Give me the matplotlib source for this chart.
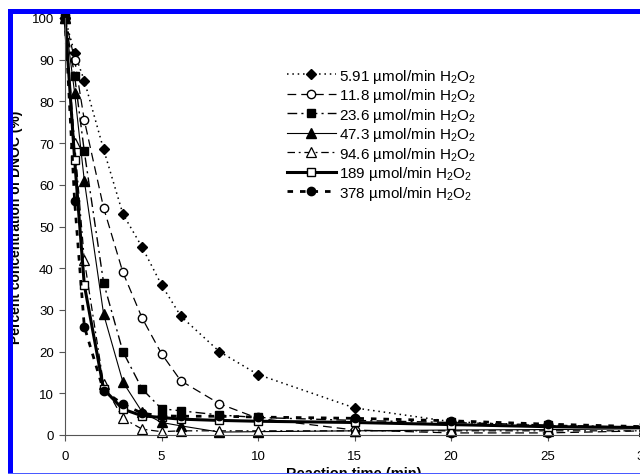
import matplotlib
matplotlib.use("Agg")
import matplotlib.pyplot as plt
from matplotlib.patches import Rectangle

plt.rcParams['font.family'] = ['Liberation Sans', 'DejaVu Sans']
plt.rcParams['mathtext.default'] = 'regular'

# reaction time (min)
t = [0, 0.5, 1, 2, 3, 4, 5, 6, 8, 10, 15, 20, 25, 30]

# percent concentration of DNOC for each H2O2 feed rate
c_591 = [100, 91.5, 85, 68.5, 53, 45, 36, 28.5, 20, 14.5, 6.5, 3.2, 2.2, 1.8]
c_118 = [100, 90, 75.5, 54.5, 39, 28, 19.5, 13, 7.5, 4.0, 1.2, 0.5, 0.5, 1.0]
c_236 = [100, 86, 68, 36.5, 20, 11, 6.3, 5.8, 4.8, 4.2, 3.5, 3.0, 2.4, 1.8]
c_473 = [100, 82, 61, 29, 12.7, 5.5, 3.0, 2.2, 0.7, 0.8, 1.0, 1.2, 1.3, 1.5]
c_946 = [100, 70, 42, 12.2, 4.0, 1.4, 0.8, 1.0, 1.0, 1.0, 1.0, 1.0, 1.0, 1.0]
c_189 = [100, 66, 36, 11, 6.2, 4.6, 4.2, 3.8, 3.5, 3.3, 3.0, 2.5, 2.0, 1.8]
c_378 = [100, 56, 26, 10.6, 7.4, 5.2, 4.6, 4.5, 4.5, 4.3, 4.0, 3.4, 2.6, 2.0]

labels = ["5.91 µmol/min H$_2$O$_2$", "11.8 µmol/min H$_2$O$_2$",
          "23.6 µmol/min H$_2$O$_2$", "47.3 µmol/min H$_2$O$_2$",
          "94.6 µmol/min H$_2$O$_2$", "189 µmol/min H$_2$O$_2$",
          "378 µmol/min H$_2$O$_2$"]

fig = plt.figure(figsize=(6.4, 4.77), dpi=100)
ax = fig.add_axes([65/640, 41/477, 579/640, 417/477])

k = dict(color="black", clip_on=False)
ax.plot(t, c_591, ls=(0, (1, 2.5)), lw=1.1, marker="D", ms=5, mfc="black", label=labels[0], **k)
ax.plot(t, c_118, ls=(0, (7, 4)), lw=0.9, marker="o", ms=6, mfc="white", mew=1, label=labels[1], **k)
ax.plot(t, c_236, ls=(0, (7, 3, 1.5, 3)), lw=1.0, marker="s", ms=6, mfc="black", label=labels[2], **k)
ax.plot(t, c_473, ls="-", lw=0.8, marker="^", ms=6.5, mfc="black", label=labels[3], **k)
ax.plot(t, c_946, ls=(0, (6, 3, 1.5, 3)), lw=0.9, marker="^", ms=6.5, mfc="white", mew=0.9, label=labels[4], **k)
ax.plot(t, c_189, ls="-", lw=2.2, marker="s", ms=5.5, mfc="white", mew=1, label=labels[5], **k)
ax.plot(t, c_378, ls=(0, (2, 2.5)), lw=2.0, marker="o", ms=6, mfc="black", label=labels[6], **k)

ax.set_xlim(0, 30)
ax.set_ylim(0, 100)
ax.set_xticks(range(0, 31, 5))
ax.set_yticks(range(0, 101, 10))
ax.spines['top'].set_visible(False)
ax.spines['right'].set_visible(False)
ax.spines['left'].set_color("#555555")
ax.spines['bottom'].set_color("#555555")
ax.tick_params(direction="out", length=4, width=0.8, color="#555555", labelsize=9.5, pad=4)
ax.tick_params(axis="x", pad=7)

ax.set_xlabel("Reaction time (min)", fontsize=10.5, fontweight="bold")
ax.xaxis.set_label_coords(354/640, 10/477, transform=fig.transFigure)
ax.set_ylabel("Percent concentration of DNOC (%)", fontsize=10, fontweight="bold")
ax.yaxis.set_label_coords(23/640, 250/477, transform=fig.transFigure)

ax.legend(loc="upper left", bbox_to_anchor=(279/640, 1 - 60/477), bbox_transform=fig.transFigure,
          frameon=False, fontsize=11, handlelength=3.2, handletextpad=0.2, labelspacing=0.1,
          borderpad=0)

# blue frame round the picture
blue = "#0000ff"
fig.add_artist(Rectangle((8/640, 1 - 15/477), 1, 5/477, transform=fig.transFigure,
                         facecolor=blue, edgecolor="none", zorder=10))
fig.add_artist(Rectangle((8/640, 2/477), 5/640, 1 - 12/477, transform=fig.transFigure,
                         facecolor=blue, edgecolor="none", zorder=10))
fig.add_artist(Rectangle((8/640, 2/477), 1, 1.5/477, transform=fig.transFigure,
                         facecolor="#4a5aff", edgecolor="none", zorder=10))
fig.add_artist(Rectangle((0, 0), 1, 2/477, transform=fig.transFigure,
                         facecolor="white", edgecolor="none", zorder=10))

fig.savefig("out.png", dpi=100)
